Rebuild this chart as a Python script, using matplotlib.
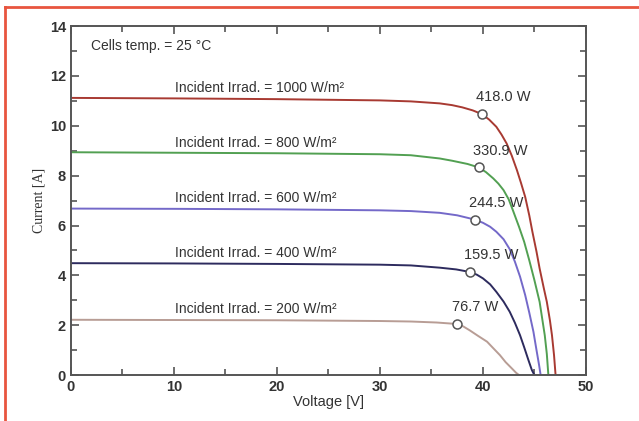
import matplotlib.pyplot as plt
from matplotlib.lines import Line2D
from matplotlib.ticker import MultipleLocator

plt.rcParams['font.family'] = ['Liberation Sans', 'DejaVu Sans']

# I-V curves (voltage V, current A)
irradiances = [1000, 800, 600, 400, 200]
colors = ['#a83a32', '#52a052', '#7469c9', '#2d2b5e', '#b89d95']

v_1000 = [0, 10, 20, 30, 33, 35.8, 37, 38, 39, 39.9, 40.6, 41.3, 41.8, 42.3, 42.8, 43.3, 43.7,
          44.1, 44.5, 44.8, 45.2, 45.5, 45.9, 46.2, 46.5, 46.7, 46.9, 47.05]
i_1000 = [11.12, 11.10, 11.07, 11.02, 10.98, 10.90, 10.83, 10.74, 10.62, 10.47, 10.25, 9.96, 9.65, 9.29,
          8.8, 8.22, 7.7, 7.15, 6.4, 5.75, 4.95, 4.28, 3.5, 2.94, 2.2, 1.6, 0.8, 0.0]

v_800 = [0, 10, 20, 30, 33, 35.8, 37, 38.5, 39.6, 40.3, 41.0, 41.5, 42.0, 42.5, 42.9, 43.5,
         44.0, 44.5, 45.0, 45.5, 46.0, 46.2, 46.35]
i_800 = [8.94, 8.92, 8.90, 8.86, 8.82, 8.69, 8.60, 8.47, 8.33, 8.14, 7.89, 7.68, 7.42, 7.05, 6.62, 5.95,
         5.35, 4.6, 3.8, 2.94, 1.6, 0.85, 0.0]

v_600 = [0, 10, 20, 30, 33, 35.8, 37.5, 39.2, 40.0, 40.7, 41.3, 42.0, 42.6, 43.1, 43.6, 44.1,
         44.5, 44.9, 45.2, 45.45, 45.6]
i_600 = [6.68, 6.67, 6.65, 6.61, 6.58, 6.51, 6.41, 6.24, 6.11, 5.95, 5.75, 5.45, 5.05, 4.55, 3.95, 3.21,
         2.5, 1.74, 1.0, 0.4, 0.0]

v_400 = [0, 10, 20, 30, 33, 35.8, 37.4, 38.7, 39.4, 40.0, 40.7, 41.3, 42.0, 42.6, 43.1, 43.6,
         44.0, 44.4, 44.75, 45.0]
i_400 = [4.49, 4.48, 4.46, 4.43, 4.40, 4.31, 4.24, 4.14, 4.03, 3.88, 3.64, 3.34, 2.95, 2.54, 2.1, 1.6,
         1.12, 0.62, 0.2, 0.0]

v_200 = [0, 10, 20, 30, 33, 35.5, 37.5, 38.1, 38.7, 39.5, 40.4, 41.0, 41.65, 42.2, 42.8, 43.2, 43.5]
i_200 = [2.22, 2.21, 2.20, 2.17, 2.15, 2.11, 2.05, 1.95, 1.80, 1.58, 1.34, 1.08, 0.80, 0.52, 0.27, 0.1, 0.0]

# maximum power points
mpp_v = [39.9, 39.6, 39.2, 38.7, 37.5]
mpp_i = [10.47, 8.33, 6.24, 4.14, 2.05]
mpp_labels = ['418.0 W', '330.9 W', '244.5 W', '159.5 W', '76.7 W']

label_y = [11.5, 9.3, 7.1, 4.9, 2.65]

curves_v = [v_1000, v_800, v_600, v_400, v_200]
curves_i = [i_1000, i_800, i_600, i_400, i_200]

fig = plt.figure(figsize=(6.39, 4.21), dpi=100)
ax = fig.add_axes([0.111, 0.109, 0.806, 0.829])

for v, i, c in zip(curves_v, curves_i, colors):
    ax.plot(v, i, color=c, lw=1.4, zorder=2)

ax.scatter(mpp_v, mpp_i, s=42, facecolor='white', edgecolor='#555555', linewidth=1.1, zorder=3)

for x, y, t in zip(mpp_v, mpp_i, mpp_labels):
    ax.annotate(t, (x, y), xytext=(-4, 7), textcoords='offset points',
                fontsize=10.5, color='#333333', va='bottom', ha='left')

for g, y in zip(irradiances, label_y):
    ax.text(10.1, y, f'Incident Irrad. = {g} W/m²', fontsize=10, color='#333333', va='center')

ax.text(1.9, 13.2, 'Cells temp. = 25 °C', fontsize=10, color='#333333', va='center')

ax.set_xlim(0, 50)
ax.set_ylim(0, 14)
ax.xaxis.set_major_locator(MultipleLocator(10))
ax.xaxis.set_minor_locator(MultipleLocator(5))
ax.yaxis.set_major_locator(MultipleLocator(2))
ax.yaxis.set_minor_locator(MultipleLocator(1))
ax.tick_params(which='both', direction='in', top=True, right=True, color='#555555',
               labelsize=10.5, labelcolor='#333333', width=1.2)
ax.tick_params(which='major', length=6)
ax.tick_params(which='minor', length=4)
for lab in ax.get_xticklabels() + ax.get_yticklabels():
    lab.set_fontweight('bold')
for s in ax.spines.values():
    s.set_color('#555555')
    s.set_linewidth(1.4)

ax.set_xlabel('Voltage [V]', fontsize=10.5, color='#333333', labelpad=1)
ax.set_ylabel('Current [A]', fontsize=10, family='Liberation Serif', color='#333333', labelpad=3)

# orange-red frame on the top and left edges
fig.add_artist(Line2D([0.008, 0.008], [0, 0.983], transform=fig.transFigure, color='#e8553f', lw=2))
fig.add_artist(Line2D([0.008, 1.0], [0.983, 0.983], transform=fig.transFigure, color='#e8553f', lw=2))

fig.savefig('out.png', dpi=100)
